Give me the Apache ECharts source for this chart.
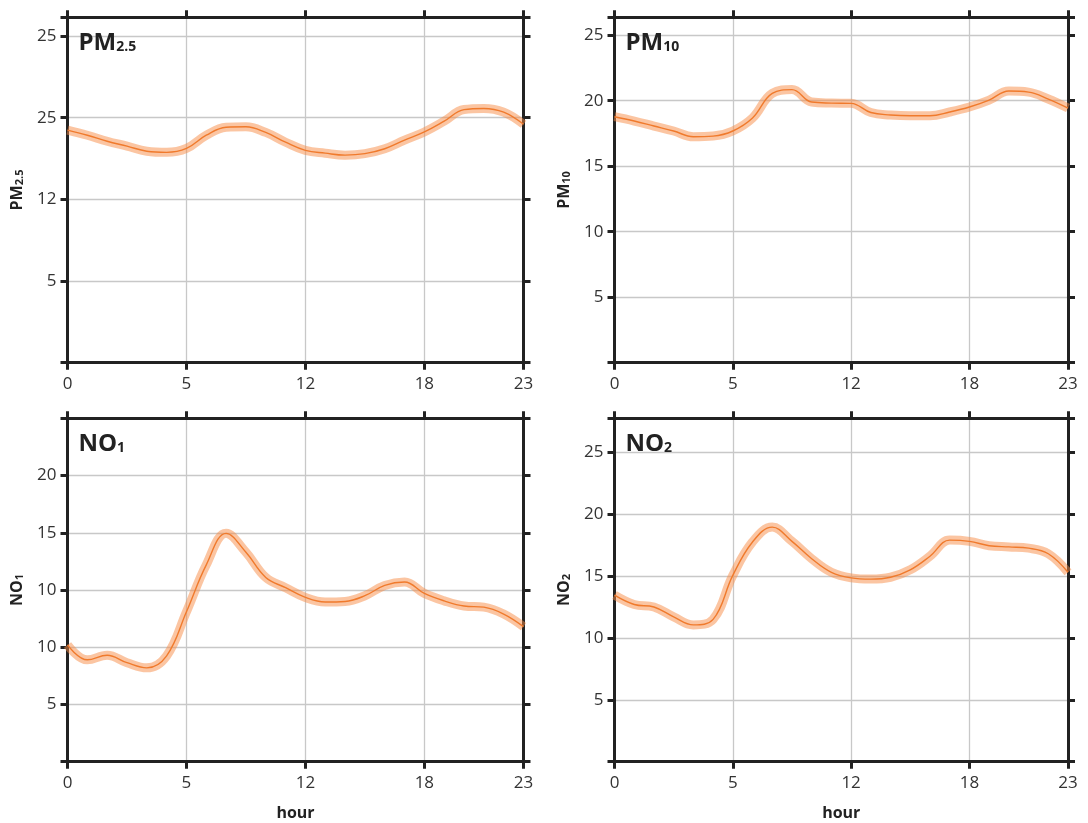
<!DOCTYPE html>
<html><head><meta charset="utf-8">
<script src="https://cdn.jsdelivr.net/npm/echarts@6/dist/echarts.min.js"></script>
<style>html,body{margin:0;padding:0;background:#fff}#c{width:1088px;height:823px}</style>
</head><body><div id="c"></div>
<script>
// ---- data ----
const hours = [0,1,2,3,4,5,6,7,8,9,10,11,12,13,14,15,16,17,18,19,20,21,22,23];
const pm25 = [14.24,13.93,13.56,13.26,12.95,12.88,13.12,13.93,14.42,14.45,14.1,13.5,13.0,12.83,12.71,12.8,13.1,13.63,14.13,14.79,15.5,15.57,15.34,14.6];
const pm10 = [18.78,18.45,18.07,17.69,17.25,17.3,17.69,18.68,20.56,20.85,19.9,19.82,19.8,19.1,18.91,18.85,18.85,19.14,19.52,20.05,20.74,20.66,20.13,19.44];
const no1  = [10.2,8.9,9.3,8.65,8.2,9.25,13.1,17.2,19.95,18.3,16.1,15.2,14.35,13.95,14.0,14.5,15.4,15.7,14.7,14.05,13.6,13.5,12.9,11.8];
const no2  = [13.45,12.7,12.5,11.7,11.05,11.5,15.05,17.75,18.95,17.8,16.4,15.3,14.85,14.75,14.9,15.5,16.6,17.9,17.8,17.45,17.35,17.25,16.8,15.3];

const xTickValues = [0,6,12,18,23];
const xTickLabels = ['0','5','12','18','23'];
const yTickValues = [5,10,15,20,25];
const pm25TickLabels = ['5','12','25','25',''];
const pm10TickLabels = ['5','10','15','20','25'];
const no1TickLabels  = ['5','10','10','15','20'];
const no2TickLabels  = ['5','10','15','20','25'];

const titles = [['PM','2.5'],['PM','10'],['NO','1'],['NO','2']];
const series = [pm25, pm10, no1, no2];
const yLabelSets = [pm25TickLabels, pm10TickLabels, no1TickLabels, no2TickLabels];
const yMax = [21.15, 26.37, 30, 27.74];

// ---- layout ----
const grids = [
  {left:67.5, top:17.3, width:456, height:345.4},
  {left:614.5, top:17.3, width:453.5, height:345.4},
  {left:67.5, top:418.3, width:456, height:343.4},
  {left:614.5, top:418.3, width:453.5, height:343.4}
];
const FONT = 'Open Sans';
const DARK = '#222';
const spine = {show:true, onZero:false, lineStyle:{color:DARK, width:3}};
const tick = {show:true, inside:false, length:7, lineStyle:{color:DARK, width:3}};
const grid = {show:true, lineStyle:{color:'#c8c8c8', width:1.3}};

function labelFmt(vals, labels){
  return function(v){
    for (let i=0;i<vals.length;i++){ if (Math.abs(vals[i]-v)<1e-6) return labels[i]; }
    return '';
  };
}

const option = {
  animation:false,
  backgroundColor:'#fff',
  grid: grids.map(g=>Object.assign({containLabel:false, outerBoundsMode:'none'}, g)),
  title: titles.map((t,i)=>({
    text:'{a|'+t[0]+'}{b|'+t[1]+'}',
    left: grids[i].left + 11, top: grids[i].top + 9, padding:0,
    textStyle:{rich:{
      a:{fontSize:24, fontWeight:'bold', color:DARK, fontFamily:FONT, lineHeight:29, verticalAlign:'bottom'},
      b:{fontSize:14, fontWeight:'bold', color:DARK, fontFamily:FONT, lineHeight:14, verticalAlign:'bottom', padding:[0,0,1,0]}
    }}
  })),
  xAxis: [],
  yAxis: [],
  series: []
};

for (let i=0;i<4;i++){
  const isBottom = i>=2;
  option.xAxis.push({
    type:'value', gridIndex:i, position:'bottom', min:0, max:23, interval:6,
    axisLine:spine, axisTick:tick, splitLine:grid,
    axisLabel:{show:true, margin:13, fontSize:17, color:'#333', fontFamily:FONT, formatter:labelFmt(xTickValues,xTickLabels)},
    name: isBottom ? 'hour' : '', nameLocation:'middle', nameGap:44,
    nameTextStyle:{fontSize:16, fontWeight:'bold', color:DARK, fontFamily:FONT}
  });
  option.xAxis.push({
    type:'value', gridIndex:i, position:'top', min:0, max:23, interval:6,
    axisLine:spine, axisTick:tick, splitLine:{show:false}, axisLabel:{show:false}
  });
  const t = titles[i];
  option.yAxis.push({
    type:'value', gridIndex:i, position:'left', min:0, max:yMax[i], interval:5,
    axisLine:spine, axisTick:tick, splitLine:grid,
    axisLabel:{show:true, margin:11, fontSize:17, color:'#333', fontFamily:FONT, formatter:labelFmt(yTickValues,yLabelSets[i])},
    name:'{a|'+t[0]+'}{b|'+t[1]+'}', nameLocation:'middle', nameGap:42, nameRotate:90,
    nameTextStyle:{rich:{
      a:{fontSize:16, fontWeight:'bold', color:DARK, fontFamily:FONT, lineHeight:20, verticalAlign:'bottom'},
      b:{fontSize:11, fontWeight:'bold', color:DARK, fontFamily:FONT, lineHeight:11, verticalAlign:'bottom'}
    }}
  });
  option.yAxis.push({
    type:'value', gridIndex:i, position:'right', min:0, max:yMax[i], interval:5,
    axisLine:spine, axisTick:tick, splitLine:{show:false}, axisLabel:{show:false}
  });
  const data = hours.map((h,k)=>[h, series[i][k]]);
  option.series.push({
    type:'line', xAxisIndex:2*i, yAxisIndex:2*i, data:data, smooth:0.4, showSymbol:false, silent:true,
    lineStyle:{color:'rgba(247,140,70,0.5)', width:9, cap:'butt', join:'round'}, z:3
  });
  option.series.push({
    type:'line', xAxisIndex:2*i, yAxisIndex:2*i, data:data, smooth:0.4, showSymbol:false, silent:true,
    lineStyle:{color:'#f07a2c', width:1.4}, z:4
  });
}

const chart = echarts.init(document.getElementById('c'), null, {renderer:'canvas'});
chart.setOption(option);
</script>
</body></html>
